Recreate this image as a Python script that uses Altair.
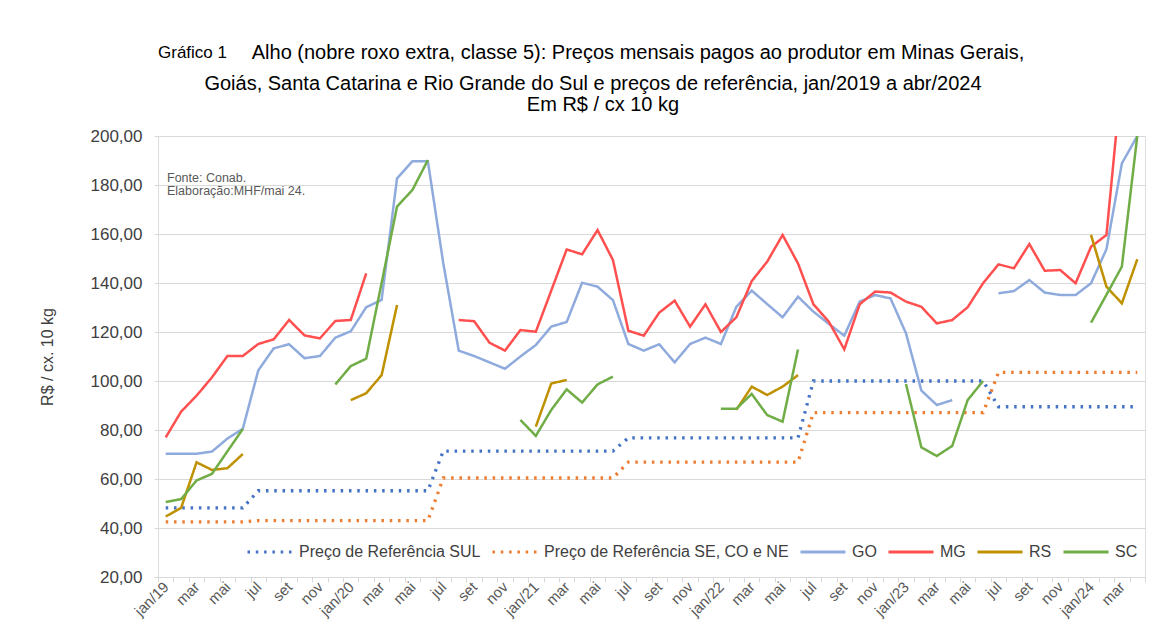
import altair as alt
import pandas as pd

N = None
# ---- categories (jan/2019 .. abr/2024) ----
month_abbr = ["jan", "fev", "mar", "abr", "mai", "jun", "jul", "ago", "set", "out", "nov", "dez"]
n_months = 64
tick_labels = [
    (f"jan/{19 + k // 12}" if k % 12 == 0 else month_abbr[k % 12]) if k % 2 == 0 else ""
    for k in range(n_months)
]

series_names = ["Preço de Referência SUL", "Preço de Referência SE, CO e NE", "GO", "MG", "RS", "SC"]
series_colors = ["#4472C4", "#ED7D31", "#8FAADC", "#FF4F4F", "#BF9000", "#70AD47"]

ref_sul = [48.2] * 6 + [55.2] * 12 + [71.4] * 12 + [76.8] * 12 + [100.0] * 12 + [89.5] * 10
ref_se = [42.5] * 6 + [43.0] * 12 + [60.4] * 12 + [66.9] * 12 + [87.1] * 12 + [103.5] * 10

go = [70.3, 70.3, 70.3, 71.2, 76.5, 80.5, 104.3, 113.3, 115.0, 109.3, 110.2, 117.7,
      120.3, 130.1, 133.1, 182.7, 189.7, 189.7, 148.0, 112.4, 110.2, 107.6, 105.0, 110.0,
      114.7, 122.2, 124.1, 140.1, 138.5, 133.0, 115.1, 112.4, 115.0, 107.6, 115.1, 117.7,
      115.1, 130.3, 136.9, 131.4, 126.0, 134.4, 128.3, 123.3, 118.5, 132.4, 135.1, 133.7,
      119.5, 96.1, 90.2, 92.2, N, N, 135.8, 136.7, 141.2, 136.1, 135.1, 135.1,
      139.9, 153.8, 188.8, 200.0]

mg = [77.0, 87.5, 94.0, 101.5, 110.2, 110.2, 115.1, 117.0, 124.9, 118.6, 117.4, 124.5,
      124.9, 143.9, N, N, N, N, N, 124.9, 124.4, 115.6, 112.4, 120.8,
      120.1, 136.9, 153.7, 151.7, 161.6, 149.4, 120.5, 118.5, 127.9, 132.8, 122.2, 131.3,
      120.0, 126.0, 140.8, 148.7, 159.6, 148.0, 131.3, 124.2, 112.9, 131.3, 136.5, 136.1,
      132.4, 130.3, 123.5, 124.9, 130.1, 139.9, 147.6, 146.0, 155.9, 145.0, 145.3, 139.9,
      154.8, 159.6, 225.0, 230.0]

rs = [44.7, 48.2, 66.8, 63.7, 64.4, 70.2, N, N, N, N, N, N,
      92.2, 95.0, 102.4, 131.0, N, N, N, N, N, N, N, N,
      81.4, 99.0, 100.4, N, N, N, N, N, N, N, N, N,
      N, 88.2, 97.7, 94.3, 97.7, 102.4, N, N, N, N, N, N,
      N, N, N, N, N, N, N, N, N, N, N, N,
      159.6, 138.5, 131.7, 149.7]

sc = [50.6, 51.8, 59.4, 62.1, 71.3, 80.4, N, N, N, N, N, 98.6,
      106.1, 109.1, 140.0, 171.2, 178.0, 190.2, N, N, N, N, N, 84.1,
      77.6, 88.2, 96.6, 91.2, 98.6, 101.8, N, N, N, N, N, N,
      88.7, 88.7, 94.7, 86.1, 83.4, 112.9, N, N, N, N, N, N,
      98.8, 72.9, 69.4, 73.5, 92.2, 100.0, N, N, N, N, N, N,
      123.8, 135.2, 146.7, 200.0]

y_ticks = [20, 40, 60, 80, 100, 120, 140, 160, 180, 200]


def to_rows(name, vals):
    rows, seg, prev = [], 0, None
    for i, v in enumerate(vals):
        if v is None:
            if prev is not None:
                seg += 1
            prev = None
            continue
        rows.append({"i": i, "v": v, "serie": name, "seg": f"{name}-{seg}"})
        prev = v
    return rows


ref_df = pd.DataFrame(to_rows(series_names[0], ref_sul) + to_rows(series_names[1], ref_se))
ser_df = pd.DataFrame(to_rows("GO", go) + to_rows("MG", mg) + to_rows("RS", rs) + to_rows("SC", sc))

FONT = "Liberation Sans, Arial, sans-serif"
W, H = 987, 441
half_band = W / n_months / 2

labels_js = "[" + ",".join("'" + t + "'" for t in tick_labels + [""]) + "]"

x_enc = alt.X(
    "i:Q",
    scale=alt.Scale(domain=[-0.5, n_months - 0.5], nice=False, zero=False),
    axis=alt.Axis(
        values=[k - 0.5 for k in range(n_months + 1)],
        labelExpr=labels_js + "[round(datum.value + 0.5)]",
        labelOffset=half_band,
        labelAngle=-45,
        labelAlign="right",
        labelBaseline="middle",
        labelOverlap=False,
        labelFlush=False,
        labelBound=False,
        labelFontSize=15,
        labelColor="#595959",
        labelPadding=2,
        labelFont=FONT,
        tickColor="#d9d9d9",
        tickSize=5,
        domainColor="#d9d9d9",
        grid=False,
        title=None,
    ),
)

y_enc = alt.Y(
    "v:Q",
    scale=alt.Scale(domain=[20, 200], nice=False, zero=False),
    axis=alt.Axis(
        values=y_ticks,
        labelExpr="replace(format(datum.value, '.2f'), '.', ',')",
        labelFontSize=17,
        labelColor="#404040",
        labelFont=FONT,
        labelPadding=12,
        tickColor="#d9d9d9",
        tickSize=4,
        domain=False,
        gridColor="#d9d9d9",
        title="R$ / cx. 10 kg",
        titleFont=FONT,
        titleFontSize=16,
        titleFontWeight="normal",
        titleColor="#404040",
        titlePadding=35,
    ),
)

legend = alt.Legend(
    title=None,
    orient="none",
    direction="horizontal",
    legendX=88,
    legendY=392,
    symbolType="stroke",
    symbolSize=2025,
    symbolStrokeWidth=2.8,
    labelFontSize=16,
    labelFont=FONT,
    labelColor="#404040",
    labelOffset=5,
    columnPadding=5,
    padding=0,
    labelLimit=400,
)

color_enc = alt.Color("serie:N", scale=alt.Scale(domain=series_names, range=series_colors), legend=legend)
dash_enc = alt.StrokeDash(
    "serie:N",
    scale=alt.Scale(domain=series_names, range=[[2.5, 5.8], [2.5, 5.8], [1, 0], [1, 0], [1, 0], [1, 0]]),
    legend=legend,
)

ref_layer = alt.Chart(ref_df).mark_line(strokeWidth=3.3, clip=True).encode(
    x=x_enc, y=y_enc, color=color_enc, strokeDash=dash_enc, detail="seg:N"
)
ser_layer = alt.Chart(ser_df).mark_line(strokeWidth=2.5, clip=True).encode(
    x=x_enc, y=y_enc, color=color_enc, strokeDash=dash_enc, detail="seg:N"
)

one = pd.DataFrame({"a": [0]})


def txt(text, x, y, size, align="center", color="#000000"):
    return alt.Chart(one).mark_text(
        text=text, font=FONT, fontSize=size, align=align, baseline="middle", color=color
    ).encode(x=alt.value(x), y=alt.value(y))


title_layers = [
    txt("Gráfico 1", 0, -83, 17, align="left"),
    txt("Alho (nobre roxo extra, classe 5): Preços mensais pagos ao produtor em Minas Gerais,", 480, -83, 20),
    txt("Goiás, Santa Catarina e Rio Grande do Sul e preços de referência, jan/2019 a abr/2024", 435, -52, 20),
    txt("Em R$ / cx 10 kg", 445, -31, 20),
    txt("Fonte: Conab.", 9, 42, 12.5, align="left", color="#595959"),
    txt("Elaboração:MHF/mai 24.", 9, 55, 12.5, align="left", color="#595959"),
]

chart = alt.layer(ref_layer, ser_layer, *title_layers).properties(
    width=W,
    height=H,
    autosize=alt.AutoSizeParams(type="none"),
    padding={"left": 150, "top": 128, "right": 16, "bottom": 58},
).configure_view(stroke=None).configure(background="white")

chart.save("out.html", embed_options={"renderer": "svg", "actions": False})
